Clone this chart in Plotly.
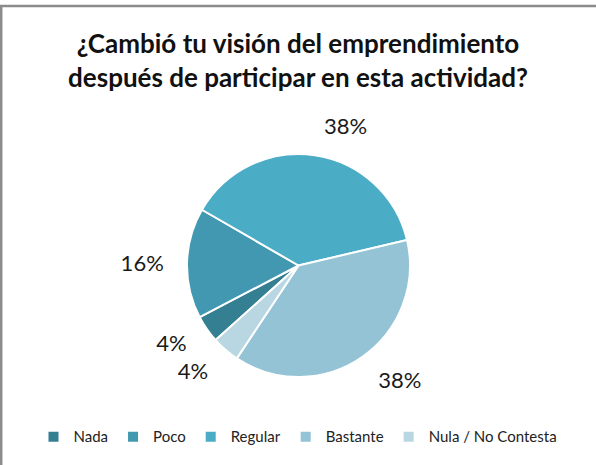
import plotly.graph_objects as go

categories = ["Nada", "Poco", "Regular", "Bastante", "Nula / No Contesta"]
values = [4, 16, 38, 38, 4]
colors = ["#357F93", "#4298B0", "#4BACC6", "#93C3D5", "#B9D7E2"]

H = 465.0
W = 596.0
cx, cy = 298.5, 265.5   # pixel centre of the pie
r_pie, r_lab = 111.5, 128.0

def ydom(r):
    c = 1 - cy / H
    return [c - r / H, c + r / H]

xc = cx / W
xdom = [xc - 0.4, xc + 0.4]

fig = go.Figure()
# visible pie
fig.add_trace(go.Pie(
    labels=categories,
    values=values,
    sort=False,
    direction="clockwise",
    rotation=228,
    marker=dict(colors=colors, line=dict(color="white", width=2)),
    textinfo="none",
    domain=dict(x=xdom, y=ydom(r_pie)),
    showlegend=True,
    hoverinfo="label+percent",
))
# transparent, slightly larger pie that only carries the outside percentage labels
fig.add_trace(go.Pie(
    labels=[c + " " for c in categories],
    values=values,
    sort=False,
    direction="clockwise",
    rotation=228,
    marker=dict(colors=["rgba(0,0,0,0)"] * len(values), line=dict(width=0)),
    texttemplate="%{percent:.0%}",
    textposition="outside",
    textfont=dict(family="Lato", size=22, color="#1a1a1a"),
    domain=dict(x=xdom, y=ydom(r_lab)),
    showlegend=False,
    hoverinfo="skip",
))

fig.update_layout(
    width=596, height=465,
    margin=dict(l=0, r=0, t=0, b=0, autoexpand=False),
    paper_bgcolor="white",
    title=dict(
        text="<b>¿Cambió tu visión del emprendimiento<br>después de participar en esta actividad?</b>",
        x=0.5, xanchor="center", y=0.885, yanchor="top",
        font=dict(family="Lato", size=26, color="#111"),
    ),
    legend=dict(
        orientation="h", x=0.5, xanchor="center", y=0.025, yanchor="bottom",
        font=dict(family="Lato", size=15, color="#222"),
        itemwidth=30,
    ),
    shapes=[dict(type="rect", xref="paper", yref="paper", x0=0.002, x1=1.2, y0=-0.2, y1=0.987,
                 line=dict(color="#8c8c8c", width=2.5), fillcolor="rgba(0,0,0,0)")],
)

fig.write_html("out.html", config={"displayModeBar": False},
               post_script="document.body.style.margin='0px';")
